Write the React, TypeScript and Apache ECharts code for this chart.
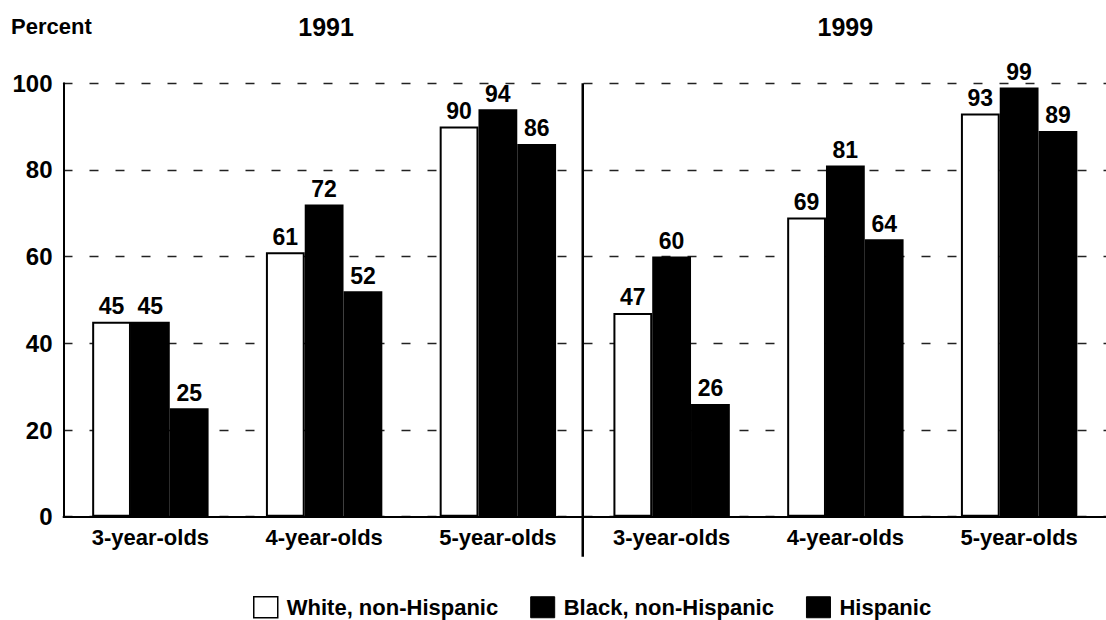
import React, { useEffect, useRef } from "react";
import * as echarts from "echarts";

const AGES = ["3-year-olds", "4-year-olds", "5-year-olds"];
const YEARS = ["1991", "1999"];
const WHITE_1991 = [45, 61, 90];
const BLACK_1991 = [45, 72, 94];
const HISPANIC_1991 = [25, 52, 86];
const WHITE_1999 = [47, 69, 93];
const BLACK_1999 = [60, 81, 99];
const HISPANIC_1999 = [26, 64, 89];
const SERIES_NAMES = ["White, non-Hispanic", "Black, non-Hispanic", "Hispanic"];
const Y_TICKS = { min: 0, max: 100, interval: 20 };

const FONT = "'Liberation Sans', Arial, sans-serif";

export default function App() {
  const ref = useRef<HTMLDivElement>(null);

  useEffect(() => {
    if (!ref.current) return;
    const chart = echarts.init(ref.current, null, { renderer: "svg" });
    const labelCfg = {
      show: true,
      position: "top",
      distance: 4,
      fontFamily: FONT,
      fontSize: 23,
      fontWeight: "bold",
      color: "#000",
    };
    const mk = (name: string, a: number[], b: number[], fill: string) => ({
      name,
      type: "bar",
      data: [...a, ...b],
      barGap: "0%",
      barCategoryGap: "33%",
      itemStyle: { color: fill, borderColor: "#000", borderWidth: 2 },
      label: labelCfg,
      emphasis: { disabled: true },
    });
    chart.setOption({
      animation: false,
      backgroundColor: "#fff",
      textStyle: { fontFamily: FONT },
      grid: { left: 63.5, right: -15, top: 83.2, bottom: 103.3, containLabel: false },
      legend: {
        data: [
          { name: SERIES_NAMES[0], itemStyle: { color: "#fff", borderColor: "#000", borderWidth: 1.5 } },
          { name: SERIES_NAMES[1], itemStyle: { color: "#000", borderColor: "#000", borderWidth: 1 } },
          { name: SERIES_NAMES[2], itemStyle: { color: "#000", borderColor: "#000", borderWidth: 1 } },
        ],
        left: 248,
        top: 591,
        icon: "rect",
        itemWidth: 24,
        itemHeight: 21,
        itemGap: 32,
        selectedMode: false,
        textStyle: { fontFamily: FONT, fontSize: 22, fontWeight: "bold", color: "#000", padding: [0, 0, 0, 4] },
      },
      xAxis: {
        type: "category",
        data: [...AGES, ...AGES],
        axisLine: { show: true, lineStyle: { color: "#000", width: 2 } },
        axisTick: { show: false },
        axisLabel: {
          interval: 0,
          fontFamily: FONT,
          fontSize: 22,
          fontWeight: "bold",
          color: "#000",
          margin: 10,
        },
      },
      yAxis: {
        type: "value",
        min: Y_TICKS.min,
        max: Y_TICKS.max,
        interval: Y_TICKS.interval,
        axisLine: { show: true, lineStyle: { color: "#000", width: 2 } },
        axisTick: { show: false },
        axisLabel: {
          fontFamily: FONT,
          fontSize: 24,
          fontWeight: "bold",
          color: "#000",
          margin: 11,
        },
        splitLine: {
          show: true,
          lineStyle: { color: "#222", width: 1.3, type: [9, 17] },
        },
      },
      series: [
        mk(SERIES_NAMES[0], WHITE_1991, WHITE_1999, "#fff"),
        mk(SERIES_NAMES[1], BLACK_1991, BLACK_1999, "#000"),
        mk(SERIES_NAMES[2], HISPANIC_1991, HISPANIC_1999, "#000"),
      ],
    });

    const xa = (i: number) => chart.convertToPixel({ xAxisIndex: 0 }, i) as number;
    const ya = (v: number) => chart.convertToPixel({ yAxisIndex: 0 }, v) as number;
    const divX = (xa(2) + xa(3)) / 2 - 2;
    const top = ya(Y_TICKS.max);
    const base = ya(Y_TICKS.min);
    const leftCenter = (xa(0) + xa(2)) / 2;
    const rightCenter = (xa(3) + xa(5)) / 2;

    chart.setOption({
      graphic: [
        {
          id: "divider",
          type: "line",
          shape: { x1: divX, y1: top, x2: divX, y2: base + 40 },
          style: { stroke: "#000", lineWidth: 2.5 },
          z: 10,
        },
        {
          id: "percent",
          type: "text",
          x: 11,
          y: 26,
          style: {
            text: "Percent",
            font: `bold 22px ${FONT}`,
            fill: "#000",
            align: "left",
            verticalAlign: "middle",
          },
        },
        {
          id: "y1",
          type: "text",
          x: leftCenter + 2,
          y: 27,
          style: {
            text: YEARS[0],
            font: `bold 25px ${FONT}`,
            fill: "#000",
            align: "center",
            verticalAlign: "middle",
          },
        },
        {
          id: "y2",
          type: "text",
          x: rightCenter,
          y: 27,
          style: {
            text: YEARS[1],
            font: `bold 25px ${FONT}`,
            fill: "#000",
            align: "center",
            verticalAlign: "middle",
          },
        },
      ],
    });

    return () => chart.dispose();
  }, []);

  return (
    <div
      ref={ref}
      style={{ position: "fixed", left: 0, top: 0, width: 1106, height: 620, background: "#fff" }}
    />
  );
}
